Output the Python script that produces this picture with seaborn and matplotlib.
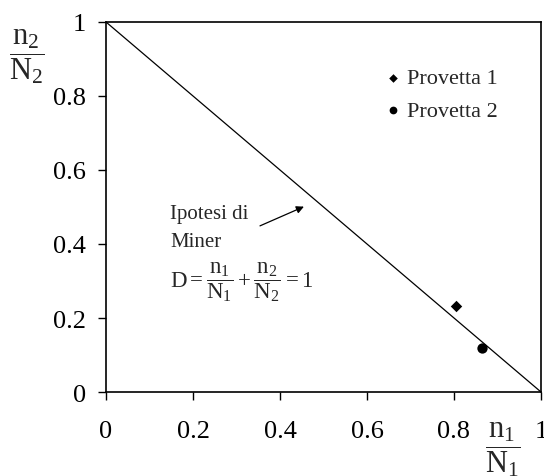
import matplotlib
matplotlib.use("Agg")
import matplotlib.pyplot as plt
import seaborn as sns
import pandas as pd

# Data
line_x = [0.0, 1.0]
line_y = [1.0, 0.0]
series = ["Provetta 1", "Provetta 2"]
pt_x = [0.805, 0.864]
pt_y = [0.233, 0.119]
ticks = [0, 0.2, 0.4, 0.6, 0.8, 1]
tick_labels = ["0", "0.2", "0.4", "0.6", "0.8", "1"]

sns.set_style("white")
plt.rcParams["font.family"] = ["Liberation Serif", "DejaVu Serif"]
plt.rcParams["mathtext.fontset"] = "custom"
plt.rcParams["mathtext.rm"] = "Liberation Serif"
plt.rcParams["mathtext.it"] = "Liberation Serif:italic"

fig = plt.figure(figsize=(5.44, 4.77), dpi=100)
ax = fig.add_axes([106/544, 1-393/477, 435/544, 370/477])

sns.lineplot(x=line_x, y=line_y, ax=ax, color="black", linewidth=0.9)

markers = ["D", "o"]
sizes = [34, 55]
for xi, yi, lab, m, s in zip(pt_x, pt_y, series, markers, sizes):
    sns.scatterplot(x=[xi], y=[yi], marker=m, s=s, color="black", linewidth=0,
                    ax=ax, label=lab)

ax.set_xlim(0, 1)
ax.set_ylim(0, 1)
ax.set_xticks(ticks)
ax.set_xticklabels(tick_labels)
ax.set_yticks(ticks)
ax.set_yticklabels(tick_labels)
ax.set_xlabel("")
ax.set_ylabel("")
for sp in ax.spines.values():
    sp.set_visible(True)
    sp.set_color("black")
    sp.set_linewidth(1.2)
ax.tick_params(axis="both", direction="out", length=5.5, width=1.0, colors="black", labelsize=19)
ax.tick_params(axis="x", pad=15)
ax.tick_params(axis="y", pad=9)
ax.tick_params(bottom=True, left=True)

leg = ax.legend(frameon=False, loc="upper left", bbox_to_anchor=(0.644, 0.876), fontsize=16,
                handletextpad=0.35, handlelength=0.6, markerscale=0.75, labelspacing=0.55,
                borderaxespad=0, borderpad=0)

# Axis fraction labels
fig.text(27/544, 1-57/477, r"$\dfrac{\mathrm{n}_2}{\mathrm{N}_2}$", fontsize=22, ha="center", va="center")
fig.text(503/544, 1-450/477, r"$\dfrac{\mathrm{n}_1}{\mathrm{N}_1}$", fontsize=22, ha="center", va="center")

# Annotation
ax.annotate("", xy=(0.455, 0.501), xytext=(0.354, 0.449),
            arrowprops=dict(arrowstyle="-|>", color="black", lw=0.9, mutation_scale=11,
                            shrinkA=0, shrinkB=0))
ax.text(0.148, 0.445, "Ipotesi di\nMiner", fontsize=15, ha="left", va="center", linespacing=1.6)
ax.text(0.148, 0.30, r"$\mathrm{D} = \dfrac{\mathrm{n}_1}{\mathrm{N}_1} + \dfrac{\mathrm{n}_2}{\mathrm{N}_2} = 1$",
        fontsize=16.5, ha="left", va="center")

fig.savefig("out.png", dpi=100)
